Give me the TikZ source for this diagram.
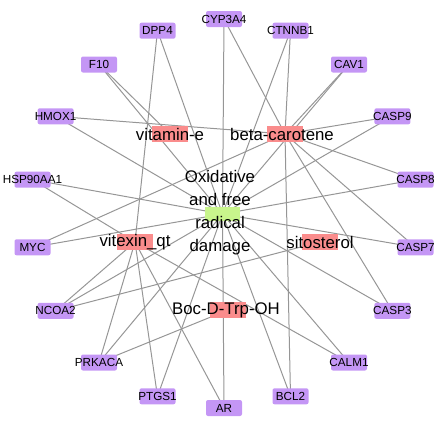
\documentclass[tikz,border=0pt]{standalone}
\usepackage{fontspec}
\setmainfont{Liberation Sans}
\definecolor{purp}{RGB}{196,150,245}
\definecolor{pinkc}{RGB}{250,140,140}
\definecolor{greenc}{RGB}{200,245,140}
\definecolor{edgec}{RGB}{150,150,150}
\pgfdeclarelayer{bg}
\pgfsetlayers{bg,main}
\begin{document}
\begin{tikzpicture}[x=1pt,y=-1pt,
  tgt/.style={fill=purp, rounded corners=2pt, minimum width=36pt, minimum height=16pt, inner sep=0pt},
  tlab/.style={font=\fontsize{11.7}{14}\selectfont, inner sep=0pt, text=black},
  cmp/.style={fill=pinkc, minimum width=36pt, minimum height=16pt, inner sep=0pt},
  clab/.style={font=\fontsize{16.8}{20}\selectfont, inner sep=0pt, text=black},
  edge/.style={draw=edgec, line width=1pt}]
\useasboundingbox (0,0) rectangle (447,429);
% targets
\node[tgt, label={[tlab]center:CYP3A4}]   (cyp)   at (224,19) {};
\node[tgt, label={[tlab]center:CTNNB1}]   (ctnnb) at (290.5,30.7) {};
\node[tgt, label={[tlab]center:CAV1}]     (cav)   at (349,64.5) {};
\node[tgt, label={[tlab]center:CASP9}]    (c9)    at (392.4,116.3) {};
\node[tgt, label={[tlab]center:CASP8}]    (c8)    at (415.5,179.7) {};
\node[tgt, label={[tlab]center:CASP7}]    (c7)    at (415.5,247.3) {};
\node[tgt, label={[tlab]center:CASP3}]    (c3)    at (392.4,310.8) {};
\node[tgt, label={[tlab]center:CALM1}]    (calm)  at (349,362.5) {};
\node[tgt, label={[tlab]center:BCL2}]     (bcl)   at (290.5,396.3) {};
\node[tgt, label={[tlab]center:AR}]       (ar)    at (224,408) {};
\node[tgt, label={[tlab]center:PTGS1}]    (ptgs)  at (157.5,396.3) {};
\node[tgt, label={[tlab]center:PRKACA}]   (prk)   at (99,362.5) {};
\node[tgt, label={[tlab]center:NCOA2}]    (ncoa)  at (55.6,310.8) {};
\node[tgt, label={[tlab]center:MYC}]      (myc)   at (32.5,247.3) {};
\node[tgt, label={[tlab]center:HSP90AA1}] (hsp)   at (32.5,179.7) {};
\node[tgt, label={[tlab]center:HMOX1}]    (hmox)  at (55.6,116.3) {};
\node[tgt, label={[tlab]center:F10}]      (f10)   at (99,64.5) {};
\node[tgt, label={[tlab]center:DPP4}]     (dpp)   at (157.5,30.7) {};
% compounds
\node[cmp, label={[clab]center:vitamin-e}] (vite) at (170,134) {};
\node[cmp, label={[clab,xshift=-3pt]center:beta-carotene}] (beta) at (285,134) {};
\node[cmp, label={[clab]center:vitexin\_qt}] (vitx) at (135,242) {};
\node[cmp, label={[clab]center:sitosterol}] (sito) at (320,242) {};
\node[cmp, label={[clab,xshift=-2pt]center:Boc-D-Trp-OH}] (boc) at (228,310) {};
% disease
\node[fill=greenc, minimum width=35pt, minimum height=14pt, inner sep=0pt] (dis) at (222.5,214) {};
\node[font=\fontsize{16.8}{23}\selectfont, align=center, inner sep=0pt] (distxt) at (220,212.5) {Oxidative\\and free\\radical\\damage};
\begin{pgfonlayer}{bg}
\foreach \t in {cyp,ctnnb,cav,c9,c8,c7,c3,calm,bcl,ar,ptgs,prk,ncoa,myc,hsp,hmox,f10,dpp}
  \draw[edge] (dis.center) -- (\t.center);
\foreach \t in {cyp,ctnnb,cav,c9,c8,c7,c3,bcl,myc,hmox}
  \draw[edge] (beta.center) -- (\t.center);
\foreach \t in {dpp,hsp,ncoa,prk,ptgs,ar,calm}
  \draw[edge] (vitx.center) -- (\t.center);
\draw[edge] (vite.center) -- (f10.center);
\draw[edge] (sito.center) -- (ncoa.center);
\draw[edge] (boc.center) -- (prk.center);
\end{pgfonlayer}
\end{tikzpicture}
\end{document}
